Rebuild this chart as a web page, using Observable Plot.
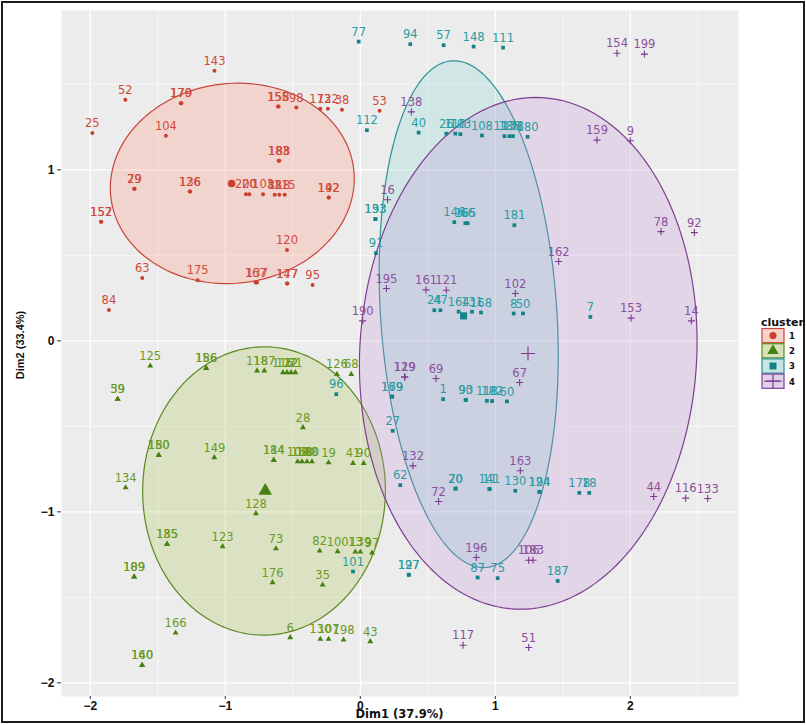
<!DOCTYPE html>
<html><head><meta charset="utf-8">
<script src="https://cdn.jsdelivr.net/npm/d3@7"></script>
<script src="https://cdn.jsdelivr.net/npm/@observablehq/plot@0.6"></script>
<style>
body{margin:0;background:#fff;}
#wrap{position:relative;width:806px;height:725px;overflow:hidden;background:#fff;}
#chart svg{display:block;}
.title{position:absolute;color:#111;white-space:nowrap;}
#xtitle{left:61px;width:677px;top:707px;text-align:center;font:bold 11.5px "DejaVu Sans";}
#ytitle{left:20px;top:345px;transform:translate(-50%,-50%) rotate(-90deg);font:bold 11px "Liberation Sans";}
#frame{position:absolute;left:1px;top:1px;width:804px;height:722px;border:2px solid #1c1c1c;box-sizing:border-box;pointer-events:none;}
#legend{position:absolute;left:0;top:0;pointer-events:none;}
</style></head>
<body><div id="wrap"><div id="chart"></div>
<div id="xtitle" class="title">Dim1 (37.9%)</div>
<div id="ytitle" class="title">Dim2 (33.4%)</div>
<svg id="legend" width="806" height="725"></svg>
<div id="frame"></div></div>
<script>
// ---------- data ----------
const c1Labels = ["143","52","170","179","25","104","155","158","98","173","122","38","53","183","188","29","79","126","136","200","20","103","88","118","115","142","192","157","152","120","63","175","167","137","147","177","95","84"];
const c1Dim1 = [-1.08,-1.74,-1.33,-1.325,-1.985,-1.44,-0.61,-0.605,-0.474,-0.296,-0.24,-0.136,0.143,-0.605,-0.6,-1.674,-1.672,-1.264,-1.26,-0.847,-0.822,-0.72,-0.634,-0.6,-0.56,-0.235,-0.233,-1.92,-1.918,-0.543,-1.615,-1.205,-0.775,-0.765,-0.543,-0.54,-0.353,-1.862];
const c1Dim2 = [1.58,1.41,1.39,1.39,1.216,1.20,1.37,1.37,1.364,1.358,1.358,1.352,1.345,1.053,1.053,0.889,0.889,0.873,0.873,0.857,0.857,0.857,0.854,0.854,0.854,0.838,0.838,0.696,0.696,0.532,0.368,0.355,0.341,0.341,0.335,0.335,0.327,0.18];

const c2Labels = ["125","59","39","156","186","118","187","116","112","22","21","126","68","28","150","180","149","184","114","108","168","188","80","19","41","90","134","128","135","185","123","73","82","100","13","139","97","189","109","176","35","166","6","130","107","198","43","160","140"];
const c2Dim1 = [-1.556,-1.798,-1.796,-1.143,-1.14,-0.765,-0.711,-0.573,-0.543,-0.513,-0.481,-0.173,-0.067,-0.425,-1.494,-1.492,-1.081,-0.642,-0.64,-0.464,-0.432,-0.395,-0.358,-0.235,-0.054,0.025,-1.738,-0.773,-1.432,-1.43,-1.02,-0.625,-0.301,-0.168,-0.037,0,0.087,-1.676,-1.674,-0.65,-0.279,-1.368,-0.519,-0.296,-0.235,-0.124,0.074,-1.617,-1.615];
const c2Dim2 = [-0.146,-0.341,-0.341,-0.16,-0.16,-0.175,-0.175,-0.185,-0.185,-0.185,-0.185,-0.195,-0.195,-0.507,-0.669,-0.669,-0.682,-0.698,-0.698,-0.706,-0.706,-0.706,-0.706,-0.712,-0.716,-0.716,-0.858,-1.01,-1.189,-1.189,-1.203,-1.215,-1.228,-1.232,-1.234,-1.234,-1.24,-1.38,-1.38,-1.413,-1.427,-1.708,-1.735,-1.744,-1.744,-1.749,-1.758,-1.897,-1.897];

const c3Labels = ["77","94","57","148","111","112","40","26","110","103","108","113","188","138","180","133","193","146","165","66","181","91","24","47","164","131","168","8","50","96","101","7","169","179","1","90","93","118","182","60","27","62","20","70","141","11","130","124","194","178","18","197","127","87","75","187"];
const c3Dim1 = [-0.012,0.37,0.617,0.839,1.057,0.049,0.432,0.637,0.704,0.741,0.901,1.067,1.104,1.131,1.239,0.111,0.113,0.696,0.778,0.795,1.141,0.116,0.548,0.593,0.728,0.827,0.894,1.136,1.205,-0.178,-0.054,1.704,0.235,0.237,0.613,0.78,0.782,0.938,0.976,1.086,0.24,0.296,0.704,0.707,0.956,0.958,1.148,1.326,1.328,1.622,1.696,0.358,0.36,0.869,1.017,1.462];
const c3Dim2 = [1.75,1.735,1.729,1.721,1.715,1.232,1.218,1.212,1.212,1.209,1.201,1.197,1.197,1.197,1.193,0.712,0.712,0.694,0.688,0.688,0.676,0.513,0.179,0.179,0.171,0.17,0.166,0.16,0.16,-0.312,-1.349,0.14,-0.326,-0.326,-0.341,-0.345,-0.345,-0.351,-0.352,-0.354,-0.526,-0.844,-0.864,-0.864,-0.867,-0.867,-0.877,-0.883,-0.883,-0.889,-0.889,-1.368,-1.368,-1.384,-1.388,-1.404];

const c4Labels = ["154","199","138","159","9","16","78","92","162","195","161","121","102","153","14","190","129","119","69","67","132","163","72","44","116","133","196","106","183","117","51"];
const c4Dim1 = [1.901,2.104,0.378,1.753,2.0,0.202,2.227,2.474,1.469,0.193,0.487,0.637,1.148,2.005,2.452,0.017,0.328,0.33,0.561,1.18,0.39,1.185,0.58,2.173,2.41,2.573,0.859,1.247,1.279,0.761,1.247];
const c4Dim2 = [1.682,1.677,1.339,1.174,1.17,0.825,0.639,0.633,0.464,0.306,0.298,0.296,0.277,0.133,0.117,0.117,-0.211,-0.211,-0.22,-0.244,-0.731,-0.76,-0.94,-0.91,-0.92,-0.922,-1.267,-1.283,-1.283,-1.78,-1.793];

const clusterNames = ["1","2","3","4"];
const centroidDim1 = [-0.953,-0.704,0.765,1.242];
const centroidDim2 = [0.92,-0.877,0.146,-0.074];

// concentration ellipses (centre, semi-axes, rotation in degrees)
const ellCx = [-0.948,-0.713,0.803,1.244];
const ellCy = [0.921,-0.878,0.156,-0.073];
const ellA = [0.904,0.899,1.487,1.50];
const ellB = [0.585,0.843,0.652,1.246];
const ellAngle = [3,1.5,95.2,82.9];

const xMajor = [-2,-1,0,1,2];
const xMinor = [-1.5,-0.5,0.5,1.5,2.5];
const yMajor = [-2,-1,0,1];
const yMinor = [-1.5,-0.5,0.5,1.5];

// ---------- styles ----------
const symbols = ["circle","triangle","square","plus"];
const ptColor = ["#c9402f","#46820f","#138289","#7a3a8d"];
const labColor = ["#d04a3b","#6a9a22","#2a9ba1","#8b509e"];
const ellStroke = ["#c8453a","#5b8a20","#2c9197","#7e3f92"];
const ellFill = ["#ff8a70","#a9c246","#7fd8d4","#c08fd6"];
const keyFill = ["#f6d2ca","#d7e0b7","#c6e6e6","#e3d1e9"];
const ptR = [2,2.2,2.1,2.4];
const cenR = [3.8,5,4,4.6];

const groups = [[c1Labels,c1Dim1,c1Dim2],[c2Labels,c2Dim1,c2Dim2],[c3Labels,c3Dim1,c3Dim2],[c4Labels,c4Dim1,c4Dim2]];
const points = groups.map(([l,x,y],k)=>l.map((lab,i)=>({label:lab,dim1:x[i],dim2:y[i],cluster:clusterNames[k]})));
const centroids = clusterNames.map((c,k)=>({cluster:c,dim1:centroidDim1[k],dim2:centroidDim2[k]}));
const ellipses = clusterNames.map((c,k)=>{
  const th = ellAngle[k]*Math.PI/180;
  return d3.range(0,360,2).map(deg=>{
    const t = deg*Math.PI/180;
    return {cluster:c,
      x: ellCx[k] + ellA[k]*Math.cos(th)*Math.cos(t) - ellB[k]*Math.sin(th)*Math.sin(t),
      y: ellCy[k] + ellA[k]*Math.sin(th)*Math.cos(t) + ellB[k]*Math.cos(th)*Math.sin(t)};
  });
});

const dotMark = (data,k,r) => k===3
  ? Plot.dot(data,{x:"dim1",y:"dim2",symbol:symbols[k],r,stroke:ptColor[k],fill:"none",strokeWidth:1.1})
  : Plot.dot(data,{x:"dim1",y:"dim2",symbol:symbols[k],r,fill:ptColor[k],stroke:"none"});

const chart = Plot.plot({
  width:806, height:725,
  marginLeft:61, marginRight:68, marginTop:10, marginBottom:29,
  x:{domain:[-2.213,2.801]},
  y:{domain:[-2.08,1.932]},
  style:{background:"transparent"},
  marks:[
    Plot.frame({fill:"#ececec",stroke:"none"}),
    Plot.ruleX(xMinor,{stroke:"#fff",strokeWidth:0.6}),
    Plot.ruleY(yMinor,{stroke:"#fff",strokeWidth:0.6}),
    Plot.ruleX(xMajor,{stroke:"#fff",strokeWidth:1.2}),
    Plot.ruleY(yMajor,{stroke:"#fff",strokeWidth:1.2}),
    ...ellipses.map((e,k)=>Plot.line(e,{x:"x",y:"y",curve:"linear-closed",fill:ellFill[k],fillOpacity:0.25,stroke:ellStroke[k],strokeWidth:1.2})),
    ...points.map((p,k)=>dotMark(p,k,ptR[k])),
    ...centroids.map((c,k)=>dotMark([c],k,cenR[k])),
    ...points.map((p,k)=>Plot.text(p,{x:"dim1",y:"dim2",text:"label",dy:-9.5,fill:labColor[k],fontSize:11.5,fontFamily:"DejaVu Sans"})),
    Plot.axisX(xMajor,{tickSize:3,tickPadding:2,label:null,tickFormat:"d",fontSize:12,fontWeight:"bold",fontFamily:"Liberation Sans",fill:"#111",stroke:"#333"}),
    Plot.axisY(yMajor,{tickSize:4,tickPadding:3,label:null,tickFormat:"d",fontSize:12,fontWeight:"bold",fontFamily:"Liberation Sans",fill:"#111",stroke:"#333"})
  ]
});
document.getElementById("chart").append(chart);

// ---------- legend ----------
const lg = d3.select("#legend");
lg.append("text").attr("x",761).attr("y",326).text("cluster")
  .attr("font-family","DejaVu Sans").attr("font-weight","bold").attr("font-size",11).attr("fill","#111");
const symGen = [d3.symbolCircle,d3.symbolTriangle,d3.symbolSquare,d3.symbolPlus];
const symSize = [40,55,48,70];
clusterNames.forEach((c,k)=>{
  const y0 = 328.5 + k*15.2;
  lg.append("rect").attr("x",762).attr("y",y0).attr("width",22).attr("height",14.2)
    .attr("fill",keyFill[k]).attr("stroke",ellStroke[k]).attr("stroke-width",1.2);
  const p = lg.append("path").attr("transform",`translate(773,${y0+7.1})`)
    .attr("d",d3.symbol(symGen[k],symSize[k])());
  if(k===3){p.attr("fill","none").attr("stroke",ptColor[k]).attr("stroke-width",1.2);
    lg.append("line").attr("x1",764).attr("x2",782).attr("y1",y0+7.1).attr("y2",y0+7.1).attr("stroke",ellStroke[k]).attr("stroke-width",1);}
  else p.attr("fill",ptColor[k]);
  lg.append("text").attr("x",789).attr("y",y0+10.5).text(c)
    .attr("font-family","DejaVu Sans").attr("font-weight","bold").attr("font-size",8.5).attr("fill","#111");
});
</script>
</body></html>
